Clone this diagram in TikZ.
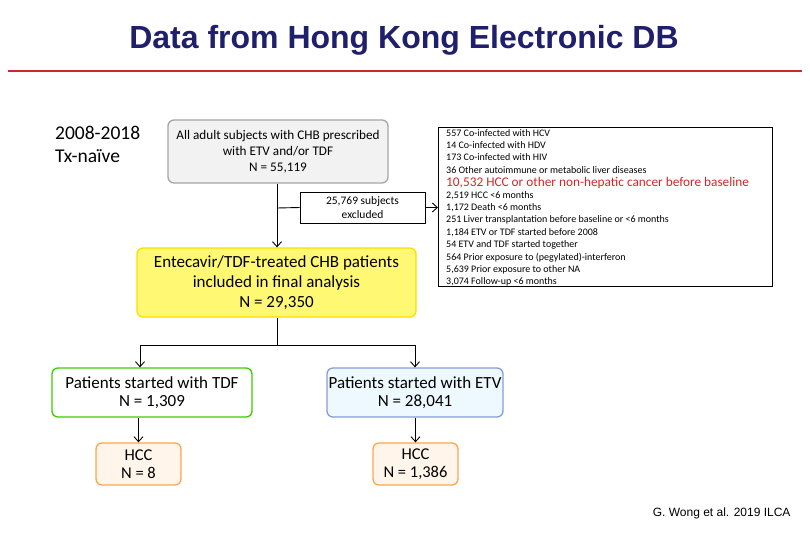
\documentclass[tikz,border=0pt]{standalone}
\usepackage{fontspec}
\setmainfont{Carlito}
\newfontfamily\arial{Liberation Sans}
\usetikzlibrary{arrows.meta}
\definecolor{navy}{HTML}{1F1F6B}
\definecolor{redl}{HTML}{D02828}
\begin{document}
\begin{tikzpicture}[x=1pt,y=-1pt,
  bx/.style={draw,rounded corners=6pt,line width=1.3pt,align=center,inner sep=0pt},
  ln/.style={line width=0.9pt},
  ar/.style={line width=0.9pt,-{Straight Barb[length=5pt,width=9pt]}}]
\useasboundingbox (0,0) rectangle (810,540);
\node[font=\arial\bfseries\fontsize{32}{34}\selectfont,text=navy] (title) at (404,40) {Data from Hong Kong Electronic DB};
\draw[redl,line width=2.5pt] (8,71) -- (802,71);
\node[anchor=north west,align=left,font=\fontsize{19.5}{23}\selectfont,inner sep=0pt] (yr) at (55,126) {2008-2018\\Tx-naïve};
\node[bx,draw=gray!70,fill=gray!10,minimum width=220pt,minimum height=63pt,font=\fontsize{13.2}{16}\selectfont] (b1) at (278,151.5) {All adult subjects with CHB prescribed\\with ETV and/or TDF\\N = 55,119};
\node[draw,line width=0.8pt,minimum width=125pt,minimum height=31pt,align=center,inner sep=0pt,font=\fontsize{11.5}{14}\selectfont] (ex) at (362.5,207.5) {25,769 subjects\\excluded};
\node[draw,line width=0.8pt,minimum width=334pt,minimum height=159pt,anchor=north west,inner sep=0pt] (list) at (438,127) {};
\node[anchor=north west,align=left,inner sep=0pt,font=\fontsize{10}{12.4}\selectfont] (lt) at (446,129) {557 Co-infected with HCV\\14 Co-infected with HDV\\173 Co-infected with HIV\\36 Other autoimmune or metabolic liver diseases\\[1pt]
{\fontsize{13.3}{14}\selectfont\color{redl}10,532 HCC or other non-hepatic cancer before baseline}\\[-1pt]
2,519 HCC <6 months\\1,172 Death <6 months\\251 Liver transplantation before baseline or <6 months\\1,184 ETV or TDF started before 2008\\54 ETV and TDF started together\\564 Prior exposure to (pegylated)-interferon\\5,639 Prior exposure to other NA\\3,074 Follow-up <6 months};
\node[bx,draw=yellow!80!orange,fill=yellow!55,minimum width=279pt,minimum height=69pt,font=\fontsize{17}{20}\selectfont] (b2) at (276.5,282.5) {Entecavir/TDF-treated CHB patients\\included in final analysis\\N = 29,350};
\node[bx,draw=green!60!lime!80!black,fill=white,minimum width=200pt,minimum height=49pt,font=\fontsize{17}{17.5}\selectfont] (tdf) at (152,392.5) {Patients started with TDF\\N = 1,309};
\node[bx,draw=cyan!40!blue!50,fill=cyan!7,minimum width=176pt,minimum height=49pt,font=\fontsize{17}{17.5}\selectfont] (etv) at (415,392.5) {Patients started with ETV\\N = 28,041};
\node[bx,draw=orange!70,fill=orange!8,minimum width=85pt,minimum height=42pt,font=\fontsize{16.5}{17.5}\selectfont] (h1) at (138.5,464) {HCC\\N = 8};
\node[bx,draw=orange!70,fill=orange!8,minimum width=85pt,minimum height=42pt,font=\fontsize{16.5}{17.5}\selectfont] (h2) at (415.5,464) {HCC\\N = 1,386};
\node[anchor=east,font=\arial\fontsize{12}{14}\selectfont] (cite) at (794,513) {G. Wong et al. 2019 ILCA};
\coordinate (j1) at (277,208);
\coordinate (j2) at (277,345);
\draw[ar] (b1.south -| j1) -- (b2.north -| j1);
\draw[ln] (j1) -- (ex.west);
\draw[ar] (ex.east) -- (list.west |- ex.east);
\draw[ln] (b2.south -| j2) -- (j2);
\draw[ar] (j2) -| (tdf.north -| 140,0);
\draw[ar] (j2) -| (etv.north);
\draw[ar] (tdf.south -| h1) -- (h1.north);
\draw[ar] (etv.south -| h2) -- (h2.north);
\end{tikzpicture}
\end{document}
